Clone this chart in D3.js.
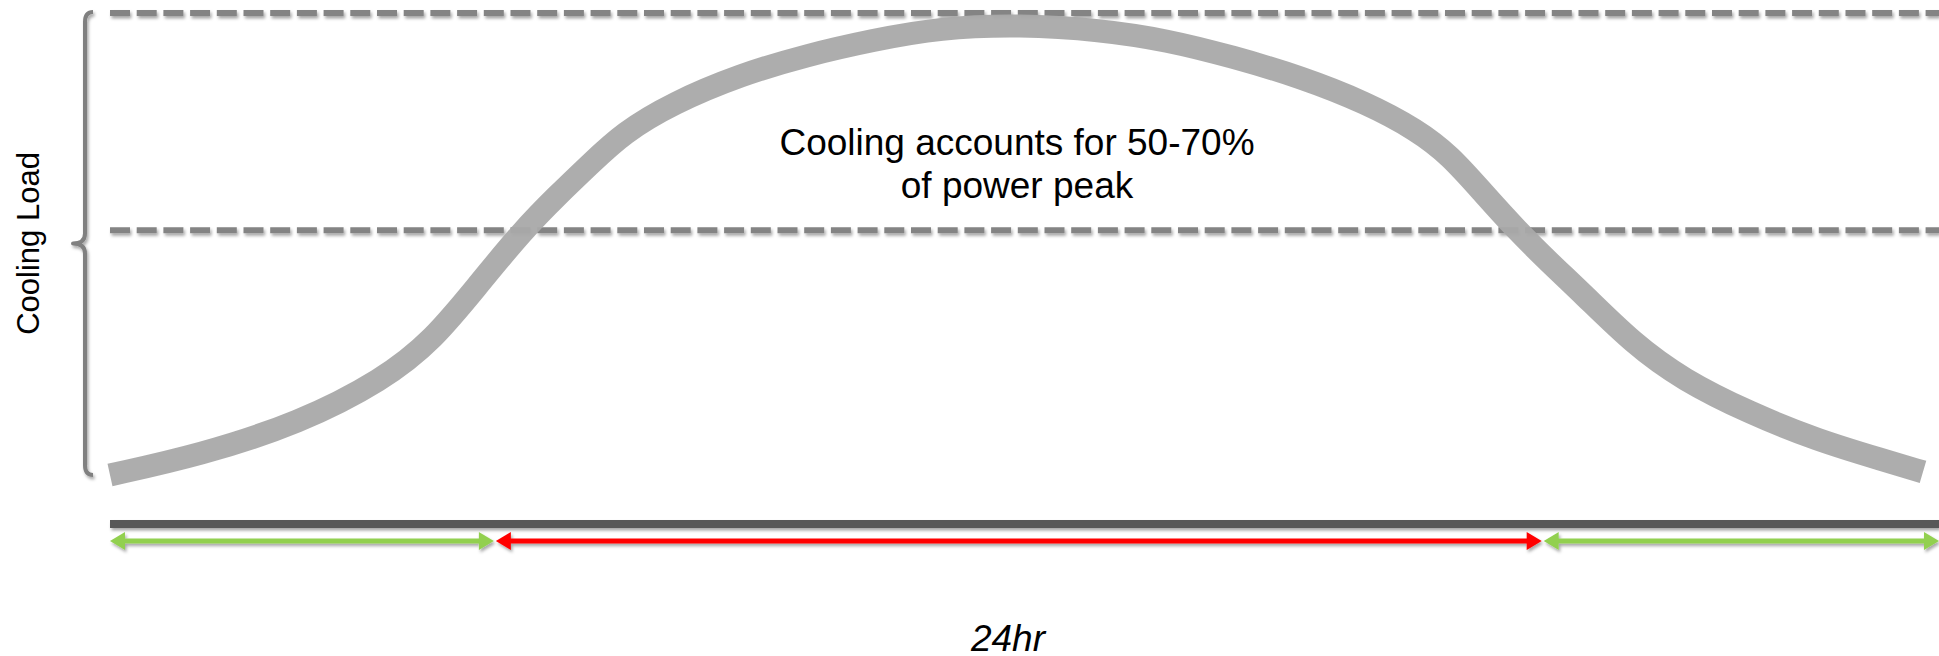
<!DOCTYPE html>
<html>
<head>
<meta charset="utf-8">
<script src="https://cdn.jsdelivr.net/npm/d3@7"></script>
<style>
  html, body { margin: 0; padding: 0; background: #fff; }
  svg { display: block; }
  text { font-family: "Liberation Sans", Arial, sans-serif; fill: #000; }
</style>
</head>
<body>
<svg id="chart" width="1939" height="656"></svg>
<script>
// Hour of day and relative cooling load (0 = base, 100 = daily peak)
const hours = [0.00, 1.18, 2.49, 3.58, 4.24, 4.84, 5.42, 5.87, 6.30, 6.73, 7.39, 8.27, 9.15, 10.01, 10.89,
               11.94, 12.99, 13.87, 14.74, 15.62, 16.49, 17.15, 17.58, 18.03, 18.46, 18.90, 19.33, 19.98,
               20.64, 21.52, 22.40, 23.27, 23.79];
const load  = [9.6, 13.5, 19.8, 28.2, 36.0, 47.0, 57.5, 64.3, 70.4, 76.5, 82.4, 87.9, 91.8, 94.7, 97.1,
               97.7, 96.7, 94.7, 91.4, 87.5, 82.4, 77.1, 72.2, 64.6, 57.5, 51.0, 45.0, 35.4,
               28.2, 21.7, 16.4, 12.5, 10.2];

// Reference levels: daily peak and the share of it attributed to cooling
const levels = [100, 57.5];

// Time-of-day bands shown under the axis
const periodStart = [0, 5.05, 18.8];
const periodEnd   = [5.05, 18.8, 24];
const periodColor = ["#92D050", "#FF0000", "#92D050"];

const yLabel = "Cooling Load";
const xLabel = "24hr";
const note = ["Cooling accounts for 50-70%", "of power peak"];

const W = 1939, H = 656;
const svg = d3.select("#chart");
const x = d3.scaleLinear().domain([0, 24]).range([110, 1939]);
const y = d3.scaleLinear().domain([0, 100]).range([524, 13]);

// soft drop shadow used by the dashed lines, axis bar, arrows and brace
const defs = svg.append("defs");
const f = defs.append("filter").attr("id", "shadow")
  .attr("filterUnits", "userSpaceOnUse")
  .attr("x", 0).attr("y", 0).attr("width", W).attr("height", H);
f.append("feDropShadow").attr("dx", 1.5).attr("dy", 2.5).attr("stdDeviation", 1.6)
  .attr("flood-color", "#000").attr("flood-opacity", 0.35);

// dashed reference lines
svg.append("g").selectAll("line").data(levels).join("line")
  .attr("x1", x(0)).attr("x2", x(24))
  .attr("y1", d => y(d)).attr("y2", d => y(d))
  .attr("stroke", "#848484").attr("stroke-width", 6)
  .attr("stroke-dasharray", "20,6.7")
  .attr("filter", "url(#shadow)");

// load curve (B-spline through the sampled readings)
const pts = hours.map((h, i) => [h, load[i]]);
svg.append("path")
  .datum(pts)
  .attr("d", d3.line().x(d => x(d[0])).y(d => y(d[1])).curve(d3.curveBasis))
  .attr("fill", "none")
  .attr("stroke", "#A9A9A9")
  .attr("stroke-opacity", 0.95)
  .attr("stroke-width", 23)
  .attr("stroke-linecap", "butt");

// axis bar
svg.append("line")
  .attr("x1", x(0)).attr("x2", x(24))
  .attr("y1", y(0)).attr("y2", y(0))
  .attr("stroke", "#595959").attr("stroke-width", 8)
  .attr("filter", "url(#shadow)");

// double-headed period arrows
const ay = 541, head = 15, halfH = 9, shaft = 5;
const ag = svg.append("g").attr("filter", "url(#shadow)");
periodStart.forEach((s, i) => {
  const x0 = x(s) + (i > 0 ? 1 : 0), x1 = x(periodEnd[i]) - (i < periodStart.length - 1 ? 1 : 0);
  const c = periodColor[i];
  ag.append("rect").attr("x", x0 + head - 1).attr("y", ay - shaft / 2)
    .attr("width", x1 - x0 - 2 * head + 2).attr("height", shaft).attr("fill", c);
  ag.append("path").attr("d", `M${x0},${ay}L${x0 + head},${ay - halfH}L${x0 + head},${ay + halfH}Z`).attr("fill", c);
  ag.append("path").attr("d", `M${x1},${ay}L${x1 - head},${ay - halfH}L${x1 - head},${ay + halfH}Z`).attr("fill", c);
});

// curly brace spanning the load range
const bt = y(levels[0]) - 1, bb = y(load[0]), bm = (bt + bb) / 2;
const bx = 85, tip = 73, endX = 93;
const brace = `M${endX},${bt} Q${bx},${bt} ${bx},${bt + 10} L${bx},${bm - 10} Q${bx},${bm} ${tip},${bm}` +
              ` Q${bx},${bm} ${bx},${bm + 10} L${bx},${bb - 10} Q${bx},${bb} ${endX},${bb}`;
svg.append("path").attr("d", brace)
  .attr("fill", "none").attr("stroke", "#808080").attr("stroke-width", 4)
  .attr("stroke-linejoin", "round")
  .attr("filter", "url(#shadow)");

// labels
svg.append("text")
  .attr("transform", `translate(39,${bm}) rotate(-90)`)
  .attr("text-anchor", "middle")
  .style("font-size", "31px")
  .text(yLabel);

const t = svg.append("text").attr("text-anchor", "middle").style("font-size", "37px");
t.append("tspan").attr("x", 1017).attr("y", 155).text(note[0]);
t.append("tspan").attr("x", 1017).attr("y", 198).text(note[1]);

svg.append("text")
  .attr("x", 1008).attr("y", 651)
  .attr("text-anchor", "middle")
  .style("font-size", "37px").style("font-style", "italic")
  .text(xLabel);
</script>
</body>
</html>
